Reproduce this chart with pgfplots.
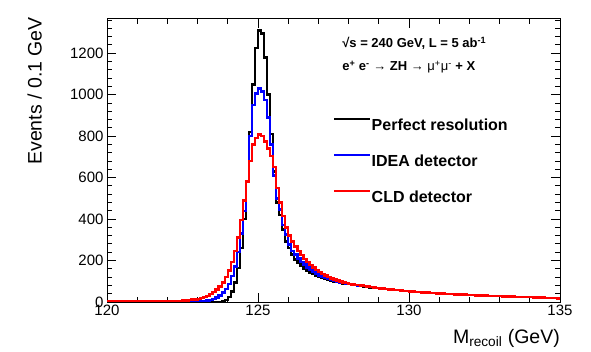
\documentclass[border=0pt]{standalone}
\usepackage{pgfplots}
\pgfplotsset{compat=1.18}
\usepackage{pgfplotstable}
\usepackage{fontspec}
\setmainfont{Liberation Sans}
\pgfplotstableread{
x k b r
120.0 0 0 2
120.1 0 0 2
120.2 0 0 2
120.3 0 0 2
120.4 0 0 2
120.5 0 0 2
120.6 0 0 2
120.7 0 0 2
120.8 0 0 2
120.9 0 0 2
121.0 0 0 2
121.1 0 0 2
121.2 0 0 2
121.3 0 1 2
121.4 0 1 2
121.5 0 1 3
121.6 0 1 3
121.7 0 1 3
121.8 0 1 3
121.9 0 1 3
122.0 0 1 4
122.1 0 1 4
122.2 0 1 5
122.3 0 2 5
122.4 0 2 6
122.5 0 2 7
122.6 0 2 8
122.7 0 3 9
122.8 0 3 11
122.9 0 4 13
123.0 0 4 15
123.1 0 5 19
123.2 1 6 24
123.3 1 7 30
123.4 1 10 38
123.5 1 15 48
123.6 1 22 60
123.7 1 32 75
123.8 3 45 95
123.9 10 62 120
124.0 25 88 152
124.1 50 125 192
124.2 95 172 245
124.3 165 240 310
124.4 260 330 395
124.5 400 440 490
124.6 580 580 580
124.7 820 800 680
124.8 1050 950 760
124.9 1225 1005 790
125.0 1310 1030 808
125.1 1295 1015 800
125.2 1180 975 775
125.3 1000 890 740
125.4 810 760 705
125.5 630 610 650
125.6 480 500 550
125.7 420 445 480
125.8 350 372 415
125.9 293 325 360
126.0 260 278 320
126.1 228 246 292
126.2 205 228 268
126.3 188 210 246
126.4 174 194 226
126.5 162 180 208
126.6 151 167 192
126.7 142 156 178
126.8 134 146 166
126.9 127 137 155
127.0 121 129 145
127.1 116 122 136
127.2 111 116 128
127.3 107 111 121
127.4 103 106 114
127.5 99 102 108
127.6 96 98 103
127.7 93 95 98
127.8 90 92 94
127.9 88 89 91
128.0 86 87 88
128.1 83 84 85
128.2 81 82 83
128.3 79 80 81
128.4 77 78 79
128.5 75 76 77
128.6 74 74 75
128.7 71 72 72
128.8 69 70 70
128.9 67 68 68
129.0 65 66 66
129.1 65 65 65
129.2 63 63 63
129.3 61 61 61
129.4 60 60 60
129.5 58 58 58
129.6 57 57 57
129.7 55 55 55
129.8 54 54 54
129.9 52 52 52
130.0 51 51 51
130.1 50 50 50
130.2 49 49 49
130.3 48 48 48
130.4 47 47 47
130.5 46 46 46
130.6 45 45 45
130.7 44 44 44
130.8 43 43 43
130.9 42 42 42
131.0 41 41 41
131.1 40 40 40
131.2 39 39 39
131.3 39 39 39
131.4 38 38 38
131.5 37 37 37
131.6 36 36 36
131.7 36 36 36
131.8 35 35 35
131.9 34 34 34
132.0 34 34 34
132.1 33 33 33
132.2 32 32 32
132.3 32 32 32
132.4 31 31 31
132.5 31 31 31
132.6 30 30 30
132.7 29 29 29
132.8 29 29 29
132.9 28 28 28
133.0 28 28 28
133.1 27 27 27
133.2 27 27 27
133.3 26 26 26
133.4 26 26 26
133.5 25 25 25
133.6 25 25 25
133.7 24 24 24
133.8 24 24 24
133.9 23 23 23
134.0 23 23 23
134.1 22 22 22
134.2 22 22 22
134.3 21 21 21
134.4 21 21 21
134.5 20 20 20
134.6 20 20 20
134.7 19 19 19
134.8 19 19 19
134.9 18 18 18
135.0 18 18 18
}\histdata

\begin{document}
\begin{tikzpicture}
\useasboundingbox (0,0) rectangle (591bp,352bp);
\begin{axis}[
  at={(107bp,50bp)}, anchor=south west,
  width=453bp, height=283bp, scale only axis,
  xmin=120, xmax=135, ymin=0, ymax=1365,
  xtick={120,125,130,135}, minor xtick={121,122,123,124,126,127,128,129,131,132,133,134},
  ytick={0,200,400,600,800,1000,1200}, minor ytick={40,80,...,1360},
  tick align=inside,
  major tick length=9bp, minor tick length=5bp,
  axis line style={line width=1bp},
  every tick/.style={black, line width=0.9bp},
  /pgf/number format/assume math mode=true,
  /pgf/number format/1000 sep={},
  ticklabel style={font=\fontsize{15bp}{15bp}\selectfont},
  xlabel={M\textsubscript{recoil} (GeV)},
  xlabel style={at={(axis description cs:1,-0.145)}, anchor=base east, inner sep=0pt, font=\fontsize{19.5bp}{19.5bp}\selectfont},
  ylabel={Events / 0.1 GeV},
  ylabel style={at={(axis description cs:-0.1442,1.007)}, anchor=base east, inner sep=0pt, font=\fontsize{19.5bp}{19.5bp}\selectfont},
  legend style={at={(axis description cs:0.499,0.652)}, anchor=north west, draw=none, fill=none,
    font=\bfseries\fontsize{16bp}{16bp}\selectfont, inner sep=0pt, row sep=23bp,
    nodes={inner sep=0pt, text height=12bp, text depth=0bp},
    /tikz/every even column/.append style={column sep=8bp}},
  legend cell align=left,
  legend image code/.code={\draw[#1] (0bp,5.7bp) -- (36bp,5.7bp);},
]
\addplot[const plot, draw=black, line width=2.5bp] table[x=x,y=k] {\histdata};
\addlegendentry{Perfect resolution}
\addplot[const plot, draw={rgb,255:red,0;green,0;blue,255}, line width=2.5bp] table[x=x,y=b] {\histdata};
\addlegendentry{IDEA detector}
\addplot[const plot, draw={rgb,255:red,255;green,0;blue,0}, line width=2.5bp] table[x=x,y=r] {\histdata};
\addlegendentry{CLD detector}
\node[anchor=west, inner sep=0pt, font=\bfseries\fontsize{13bp}{13bp}\selectfont] at (rel axis cs:0.519,0.915) {√s = 240 GeV, L = 5 ab\textsuperscript{-1}};
\node[anchor=west, inner sep=0pt, font=\bfseries\fontsize{13bp}{13bp}\selectfont] at (rel axis cs:0.519,0.830) {e\textsuperscript{+} e\textsuperscript{-} {\mdseries →} ZH {\mdseries →} {\mdseries μ\textsuperscript{+}μ\textsuperscript{-}} + X};
\node[anchor=west, inner sep=0pt, font=\bfseries\fontsize{13bp}{13bp}\selectfont] at (rel axis cs:0.002,1.032) {FCC-ee Simulation (Delphes)};
\end{axis}
\end{tikzpicture}
\end{document}
